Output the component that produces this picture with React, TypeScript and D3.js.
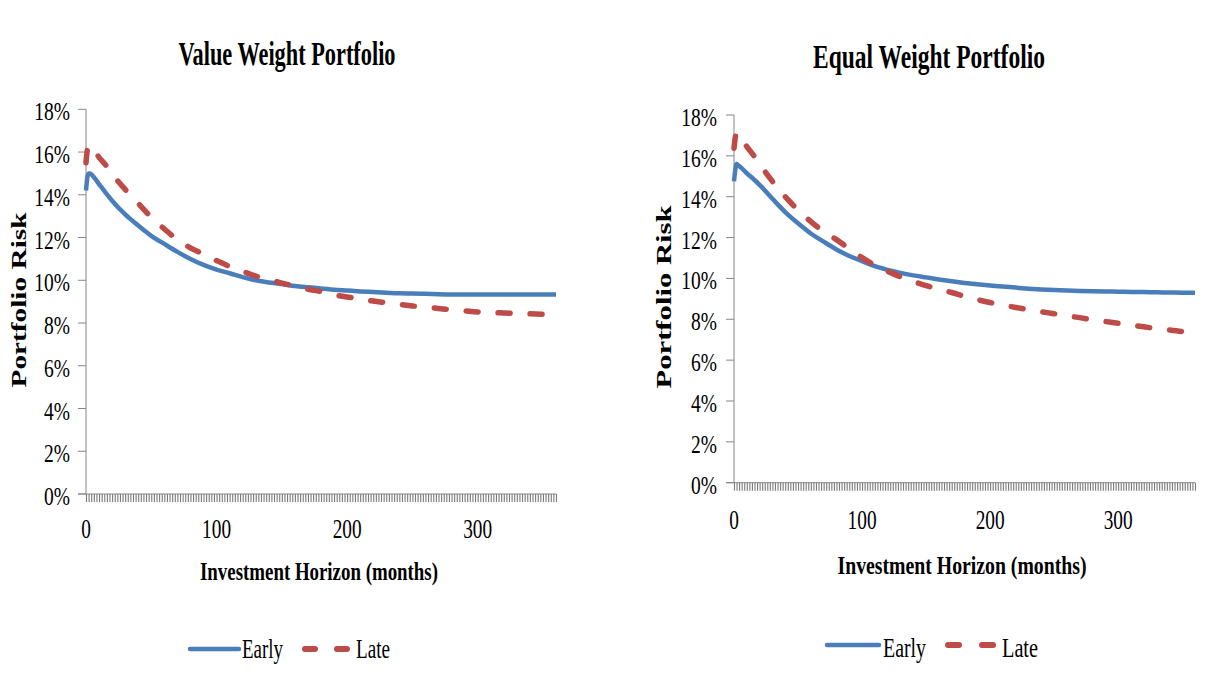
import React from 'react';
import * as d3 from 'd3';

// ---------- data ----------
const months = [0, 1, 2, 3, 5, 10, 15, 20, 30, 40, 50, 60, 70, 80, 90, 100, 110, 120, 130, 140, 150, 160, 170, 180, 190, 200, 210, 220, 230, 240, 250, 260, 270, 280, 290, 300, 310, 320, 330, 340, 350, 360];

const vwEarly = [14.2, 14.8, 15.0, 15.0, 14.9, 14.5, 14.1, 13.72, 13.08, 12.56, 12.08, 11.7, 11.33, 11.0, 10.72, 10.5, 10.33, 10.15, 10.0, 9.9, 9.83, 9.73, 9.67, 9.62, 9.56, 9.52, 9.48, 9.45, 9.42, 9.39, 9.38, 9.37, 9.35, 9.34, 9.34, 9.34, 9.34, 9.34, 9.34, 9.34, 9.34, 9.34];
const vwLate = [15.5, 16.1, 16.3, 16.3, 16.2, 15.75, 15.4, 14.98, 14.25, 13.6, 12.95, 12.4, 11.9, 11.52, 11.22, 10.92, 10.65, 10.42, 10.2, 10.03, 9.87, 9.72, 9.58, 9.47, 9.32, 9.22, 9.12, 9.03, 8.95, 8.87, 8.8, 8.74, 8.68, 8.62, 8.57, 8.52, 8.49, 8.47, 8.45, 8.43, 8.41, 8.39];
const ewEarly = [14.75, 15.3, 15.6, 15.55, 15.45, 15.15, 14.88, 14.58, 13.9, 13.25, 12.7, 12.2, 11.8, 11.42, 11.1, 10.85, 10.6, 10.42, 10.27, 10.15, 10.05, 9.95, 9.86, 9.78, 9.71, 9.65, 9.6, 9.55, 9.5, 9.46, 9.43, 9.41, 9.39, 9.37, 9.36, 9.35, 9.34, 9.33, 9.32, 9.31, 9.3, 9.3];
const ewLate = [16.37, 16.9, 17.1, 17.1, 16.9, 16.45, 16.05, 15.6, 14.75, 14.0, 13.35, 12.78, 12.3, 11.9, 11.45, 11.02, 10.65, 10.35, 10.08, 9.85, 9.65, 9.47, 9.31, 9.12, 8.96, 8.82, 8.7, 8.58, 8.47, 8.37, 8.27, 8.17, 8.08, 7.98, 7.89, 7.8, 7.72, 7.63, 7.55, 7.48, 7.4, 7.3];

const yTicks = [0, 2, 4, 6, 8, 10, 12, 14, 16, 18];
const xTickLabels = [0, 100, 200, 300];
const xMinorTicks = d3.range(0, 361, 2);
const seriesNames = ['Early', 'Late'];
const panelTitles = ['Value Weight Portfolio', 'Equal Weight Portfolio'];
const xAxisTitle = 'Investment Horizon (months)';
const yAxisTitle = 'Portfolio Risk';

// ---------- layout ----------
const FONT = '"Liberation Serif", "Times New Roman", serif';
const BLUE = '#4a7ebb';
const RED = '#be4b48';
const AXIS = '#868686';

const panels = [
  {
    early: vwEarly, late: vwLate, title: panelTitles[0],
    x0: 86, x1: 556, yTop: 109.3, yBottom: 494, yLabelX: 70, xLabelY: 538,
    titlePos: { x: 287, y: 65, w: 217 },
    xTitlePos: { x: 319, y: 580, w: 238 },
    yTitlePos: { x: 26, y: 300, len: 175 },
    leg: { y: 649, ty: 658, blue: [190, 239], red: [[302, 318], [334, 350]], earlyX: 242, earlyW: 41, lateX: 356, lateW: 34 },
  },
  {
    early: ewEarly, late: ewLate, title: panelTitles[1],
    x0: 734, x1: 1195, yTop: 115, yBottom: 482.7, yLabelX: 717, xLabelY: 529,
    titlePos: { x: 929, y: 68, w: 232 },
    xTitlePos: { x: 962, y: 574, w: 249 },
    yTitlePos: { x: 671, y: 297, len: 183 },
    leg: { y: 645, ty: 657, blue: [827, 879], red: [[945, 962], [979, 996]], earlyX: 883, earlyW: 43, lateX: 1002, lateW: 36 },
  },
];

function Panel({ p }: { p: any }) {
  const x = d3.scaleLinear().domain([0, 360]).range([p.x0, p.x1]);
  const y = d3.scaleLinear().domain([0, 18]).range([p.yBottom, p.yTop]);
  const line = d3.line<number>()
    .x((_, i) => x(months[i]))
    .y((d) => y(d))
    .curve(d3.curveMonotoneX);

  return (
    <g>
      {/* title */}
      <text x={p.titlePos.x} y={p.titlePos.y} textAnchor="middle" fontFamily={FONT} fontWeight="bold" fontSize={33}
        textLength={p.titlePos.w} lengthAdjust="spacingAndGlyphs">{p.title}</text>

      {/* y axis */}
      <line x1={p.x0} x2={p.x0} y1={p.yTop} y2={p.yBottom} stroke={AXIS} strokeWidth={1} />
      {yTicks.map((t) => (
        <g key={t}>
          <line x1={p.x0 - 8} x2={p.x0} y1={y(t)} y2={y(t)} stroke={AXIS} strokeWidth={1} />
          <text transform={`translate(${p.yLabelX},${y(t) + 11}) scale(0.75,1)`} textAnchor="end"
            fontFamily={FONT} fontSize={26} fill="#000">{`${t}%`}</text>
        </g>
      ))}

      {/* x axis */}
      <line x1={p.x0 - 8} x2={p.x1} y1={p.yBottom} y2={p.yBottom} stroke={AXIS} strokeWidth={1} />
      {xMinorTicks.map((m) => (
        <line key={m} x1={x(m) + 0.5} x2={x(m) + 0.5} y1={p.yBottom} y2={p.yBottom + 8} stroke="#7a7a7a" strokeWidth={1.1} />
      ))}
      {xTickLabels.map((m) => (
        <text key={m} transform={`translate(${x(m)},${p.xLabelY}) scale(0.69,1)`} textAnchor="middle"
          fontFamily={FONT} fontSize={28}>{m}</text>
      ))}

      {/* axis titles */}
      <text x={p.xTitlePos.x} y={p.xTitlePos.y} textAnchor="middle" fontFamily={FONT} fontWeight="bold" fontSize={26}
        textLength={p.xTitlePos.w} lengthAdjust="spacingAndGlyphs">{xAxisTitle}</text>
      <text transform={`translate(${p.yTitlePos.x},${p.yTitlePos.y}) rotate(-90) scale(1,0.74)`} textAnchor="middle"
        fontFamily={FONT} fontWeight="bold" fontSize={29} textLength={p.yTitlePos.len} lengthAdjust="spacingAndGlyphs">{yAxisTitle}</text>

      {/* series */}
      <path d={line(p.early) || ''} fill="none" stroke={BLUE} strokeWidth={4.5} strokeLinejoin="round" />
      <path d={line(p.late) || ''} fill="none" stroke={RED} strokeWidth={5.5} strokeLinejoin="round"
        strokeLinecap="round" strokeDasharray="12 20" />

      {/* legend */}
      <line x1={p.leg.blue[0]} x2={p.leg.blue[1]} y1={p.leg.y} y2={p.leg.y} stroke={BLUE} strokeWidth={4.5} strokeLinecap="round" />
      <text x={p.leg.earlyX} y={p.leg.ty} fontFamily={FONT} fontSize={27} textLength={p.leg.earlyW} lengthAdjust="spacingAndGlyphs">{seriesNames[0]}</text>
      {p.leg.red.map((r: number[], i: number) => (
        <line key={i} x1={r[0] + 3} x2={r[1] - 3} y1={p.leg.y} y2={p.leg.y} stroke={RED} strokeWidth={6} strokeLinecap="round" />
      ))}
      <text x={p.leg.lateX} y={p.leg.ty} fontFamily={FONT} fontSize={27} textLength={p.leg.lateW} lengthAdjust="spacingAndGlyphs">{seriesNames[1]}</text>
    </g>
  );
}

export default function App() {
  return (
    <svg width={1225} height={687} style={{ position: 'absolute', left: 0, top: 0, background: '#fff' }}>
      <rect x={0} y={0} width={1225} height={687} fill="#fff" />
      {panels.map((p, i) => <Panel key={i} p={p} />)}
    </svg>
  );
}
